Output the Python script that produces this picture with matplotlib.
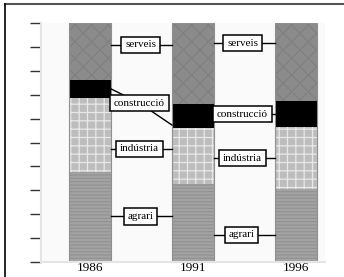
import matplotlib.pyplot as plt
from matplotlib.lines import Line2D

years = ['1986', '1991', '1996']
agrari = [37.7, 32.6, 30.5]
industria = [31.0, 23.5, 26.0]
construccio = [7.5, 10.0, 10.9]
serveis = [23.8, 33.9, 32.6]

# label text, x between bars, y of label, y where the leader touches left / right bar
labels = [
    ('serveis', 0.49, 90.8, 90.8, 90.8),
    ('serveis', 1.48, 91.6, 91.6, 91.6),
    ('construcció', 0.48, 66.5, 72.4, 57.3),
    ('construcció', 1.48, 61.9, 61.9, 61.9),
    ('indústria', 0.48, 47.3, 47.3, 47.3),
    ('indústria', 1.48, 43.5, 43.5, 43.5),
    ('agrari', 0.49, 19.2, 19.2, 19.2),
    ('agrari', 1.47, 11.3, 11.3, 11.3),
]

plt.rcParams['hatch.linewidth'] = 0.9
fig = plt.figure(figsize=(3.44, 2.77), dpi=100)
ax = fig.add_axes([41 / 344, 15 / 277, 284 / 344, 239 / 277])

x = range(len(years))
w = 0.41
bottom = [0, 0, 0]
segments = [
    (agrari, '#a3a3a3', '#939393', '-----'),
    (industria, '#bdbdbd', '#e8e8e8', '++'),
    (construccio, '#000000', '#000000', None),
    (serveis, '#8b8b8b', '#808080', 'xx'),
]
for vals, fc, hc, hatch in segments:
    ax.bar(x, vals, w, bottom=bottom, color=fc, edgecolor=hc,
           linewidth=0, hatch=hatch, zorder=2)
    bottom = [b + v for b, v in zip(bottom, vals)]
# soft outline round each column
ax.bar(x, bottom, w, fill=False, edgecolor='#8f8f8f', linewidth=0.8, zorder=2.5)

for text, lx, ly, yl, yr in labels:
    left_edge = int(lx) + w / 2
    right_edge = int(lx) + 1 - w / 2
    ax.plot([left_edge, lx, right_edge], [yl, ly, yr], color='black', lw=1, zorder=3)
    ax.text(lx, ly, text, ha='center', va='center', fontsize=8,
            family='Liberation Serif', zorder=4,
            bbox=dict(boxstyle='square,pad=0.35', fc='white', ec='black', lw=1.1))

ax.set_xlim(-0.476, 2.28)
ax.set_ylim(0, 100)
ax.set_yticks(range(0, 101, 10))
ax.set_yticklabels([])
ax.tick_params(axis='y', length=8, width=1, color='#333333')
ax.set_xticks(list(x))
ax.set_xticklabels(years, family='Liberation Serif', fontsize=9.5)
ax.tick_params(axis='x', length=0, pad=0)
ax.set_facecolor('#fafafa')
for side in ['top', 'right']:
    ax.spines[side].set_visible(False)
for side in ['left', 'bottom']:
    ax.spines[side].set_color('#e4e4e4')
    ax.spines[side].set_linewidth(1.5)

# frame of the page
fig.add_artist(Line2D([5 / 344, 1], [1 - 4 / 277, 1 - 4 / 277], color='#555555', lw=1.5))
fig.add_artist(Line2D([5 / 344, 5 / 344], [0, 1 - 4 / 277], color='black', lw=1.2))

fig.savefig('out.png', dpi=100)
